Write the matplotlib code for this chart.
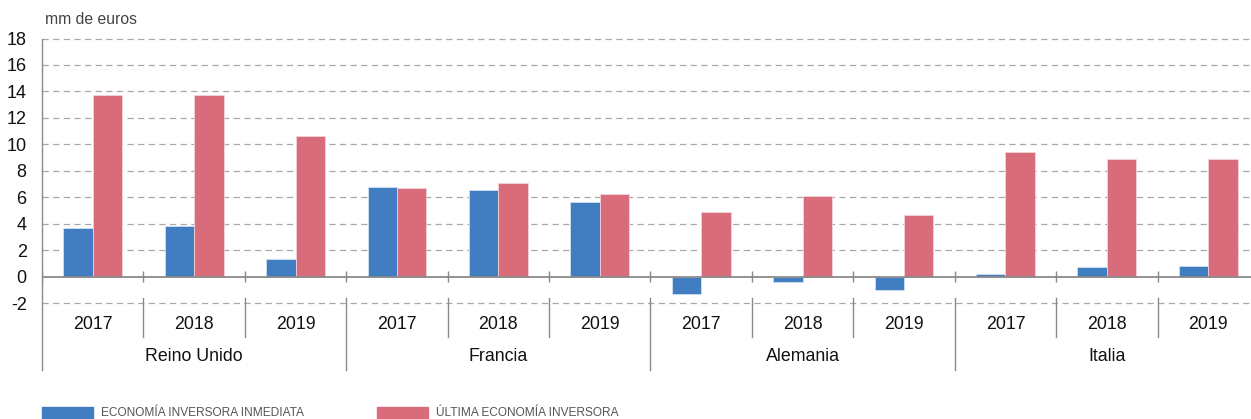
import matplotlib
matplotlib.use("Agg")
import matplotlib.pyplot as plt
import matplotlib.transforms as mtransforms
from matplotlib.patches import Rectangle
import numpy as np

plt.rcParams["font.family"] = ["Liberation Sans", "DejaVu Sans"]

# 데이터
countries = ["Reino Unido", "Francia", "Alemania", "Italia"]
years = ["2017", "2018", "2019"]
inmediata = [3.7, 3.8, 1.3, 6.75, 6.55, 5.65, -1.3, -0.4, -1.05, 0.17, 0.7, 0.8]
ultima = [13.7, 13.7, 10.6, 6.7, 7.05, 6.25, 4.9, 6.1, 4.65, 9.45, 8.9, 8.9]
legend_labels = ["ECONOMÍA INVERSORA INMEDIATA", "ÚLTIMA ECONOMÍA INVERSORA"]
ylabel = "mm de euros"

blue = "#407ec1"
red = "#d86c7a"
grid_c = "#a8a8a8"
axis_c = "#8a8a8a"

W, H = 1251, 419
fig = plt.figure(figsize=(W / 100, H / 100), dpi=100)
# 오른쪽 끝이 그림 밖으로 약간 나가도록 (원본처럼 잘림)
ax = fig.add_axes([42 / W, 1 - 303 / H, 1217 / W, (303 - 38.5) / H])

n = len(inmediata)
x = np.arange(n)
bw = 0.29
ax.bar(x - bw / 2, inmediata, bw, color=blue, edgecolor="#cfe0f2", linewidth=0.6, zorder=3)
ax.bar(x + bw / 2, ultima, bw, color=red, edgecolor="#f3d3d8", linewidth=0.6, zorder=3)

ax.set_xlim(-0.5, n - 0.5)
ax.set_ylim(-2, 18)
ax.set_yticks(np.arange(-2, 19, 2))
ax.set_yticklabels([str(v) for v in range(-2, 19, 2)], fontsize=13, color="#111111")
ax.tick_params(axis="y", length=0, pad=11)
ax.set_xticks([])

# 격자선 (0은 실선)
for v in range(-2, 19, 2):
    if v == 0:
        continue
    ax.axhline(v, color=grid_c, linestyle=(0, (5, 3.5)), linewidth=0.9, zorder=1, clip_on=False)
ax.axhline(0, color=axis_c, linewidth=1.3, zorder=4)
ax.vlines(np.arange(n + 1) - 0.5, -0.42, 0.42, color=axis_c, linewidth=1.0, zorder=4)

for s in ["top", "right", "bottom", "left"]:
    ax.spines[s].set_visible(False)

# 카테고리 라벨 영역
trans = mtransforms.blended_transform_factory(ax.transData, ax.transAxes)
ax.plot([-0.5, -0.5], [1, -0.253], transform=trans, color=axis_c, linewidth=1.0, clip_on=False)
for i in range(n):
    ax.text(i, -0.083, years[i % 3], transform=trans, ha="center", va="center",
            fontsize=12.8, color="#111111")
    if i > 0:
        low = -0.253 if i % 3 == 0 else -0.129
        ax.plot([i - 0.5, i - 0.5], [0.019, low], transform=trans, color=axis_c,
                linewidth=1.0, clip_on=False)
for k, c in enumerate(countries):
    ax.text(3 * k + 1, -0.204, c, transform=trans, ha="center", va="center",
            fontsize=12.8, color="#111111")

fig.text(45 / W, 1 - 20 / H, ylabel, fontsize=11.3, color="#444444", va="center")

# 범례
for xs, col, lab in [(42, blue, legend_labels[0]), (377, red, legend_labels[1])]:
    fig.patches.append(Rectangle((xs / W, 0), 51 / W, 12 / H, transform=fig.transFigure,
                                 color=col, figure=fig))
    fig.text((xs + 59) / W, 3 / H, lab, fontsize=8.6, color="#555555", va="baseline")

fig.savefig("out.png", dpi=100)
